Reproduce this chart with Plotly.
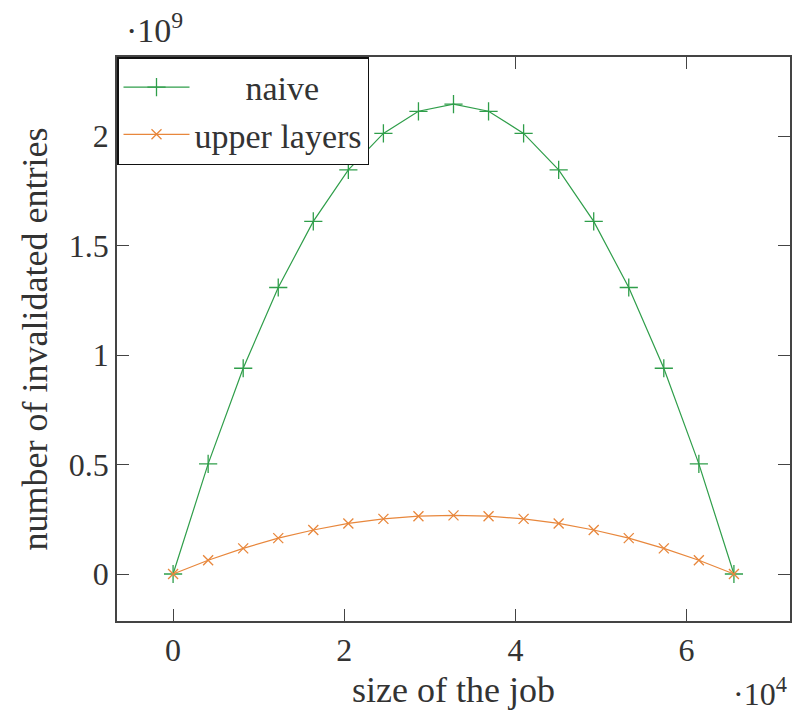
import plotly.graph_objects as go

job_size = [0, 4096, 8192, 12288, 16384, 20480, 24576, 28672, 32768,
            36864, 40960, 45056, 49152, 53248, 57344, 61440, 65536]
naive = [0, 0.503e9, 0.940e9, 1.309e9, 1.611e9, 1.846e9, 2.013e9, 2.114e9, 2.147e9,
         2.114e9, 2.013e9, 1.846e9, 1.611e9, 1.309e9, 0.940e9, 0.503e9, 0]
upper_layers = [0, 0.063e9, 0.117e9, 0.164e9, 0.201e9, 0.231e9, 0.252e9, 0.264e9, 0.268e9,
                0.264e9, 0.252e9, 0.231e9, 0.201e9, 0.164e9, 0.117e9, 0.063e9, 0]

x_tickvals = [0, 20000, 40000, 60000]
x_ticktext = ["0", "2", "4", "6"]
y_tickvals = [0, 0.5e9, 1e9, 1.5e9, 2e9]
y_ticktext = ["0", "0.5", "1", "1.5", "2"]

GREEN = "#2f9e4a"
ORANGE = "#e8873c"
AXIS = "#444444"
TEXT = "#333333"
FONT = "Liberation Serif"

fig = go.Figure()
fig.add_trace(go.Scatter(
    x=job_size, y=naive, mode="lines+markers",
    name="\u00a0\u00a0\u00a0\u00a0\u00a0\u00a0naive",
    line=dict(color=GREEN, width=1.2),
    marker=dict(symbol="cross-thin", size=13, line=dict(color=GREEN, width=1.3)),
))
fig.add_trace(go.Scatter(
    x=job_size, y=upper_layers, mode="lines+markers",
    name="upper layers",
    line=dict(color=ORANGE, width=1.2),
    marker=dict(symbol="x-thin", size=10, line=dict(color=ORANGE, width=1.3)),
))

axis_common = dict(
    showline=True, linecolor=AXIS, linewidth=1.5, mirror="ticks",
    ticks="inside", ticklen=12, tickcolor=AXIS, tickwidth=1.2,
    showgrid=False, zeroline=False,
    tickfont=dict(family=FONT, size=32, color=TEXT),
)

fig.update_layout(
    width=792, height=714,
    margin=dict(l=117, r=0, t=57, b=93),
    paper_bgcolor="white", plot_bgcolor="white",
    font=dict(family=FONT, size=32, color=TEXT),
    xaxis=dict(
        range=[-6553.6, 72089.6],
        tickvals=x_tickvals, ticktext=x_ticktext,
        title=dict(text="size of the job", font=dict(family=FONT, size=36, color=TEXT), standoff=10),
        **axis_common,
    ),
    yaxis=dict(
        range=[-0.2147e9, 2.362e9],
        tickvals=y_tickvals, ticktext=y_ticktext,
        title=dict(text="number of invalidated entries", font=dict(family=FONT, size=36, color=TEXT), standoff=10),
        **axis_common,
    ),
    legend=dict(
        x=0, y=1, xanchor="left", yanchor="top",
        bgcolor="white", bordercolor="#111111", borderwidth=1.5,
        font=dict(family=FONT, size=34, color=TEXT),
        itemwidth=66, tracegroupgap=0,
    ),
    showlegend=True,
)

fig.add_annotation(text="\u00b710<sup>9</sup>", xref="paper", yref="paper",
                   x=0.01, y=1.0, xanchor="left", yanchor="bottom", yshift=6,
                   showarrow=False, font=dict(family=FONT, size=34, color=TEXT))
fig.add_annotation(text="\u00b710<sup>4</sup>", xref="paper", yref="paper",
                   x=1.0, y=0, xanchor="right", yanchor="top", xshift=-1, yshift=-49,
                   showarrow=False, font=dict(family=FONT, size=32, color=TEXT))

fig.write_html("out.html")
